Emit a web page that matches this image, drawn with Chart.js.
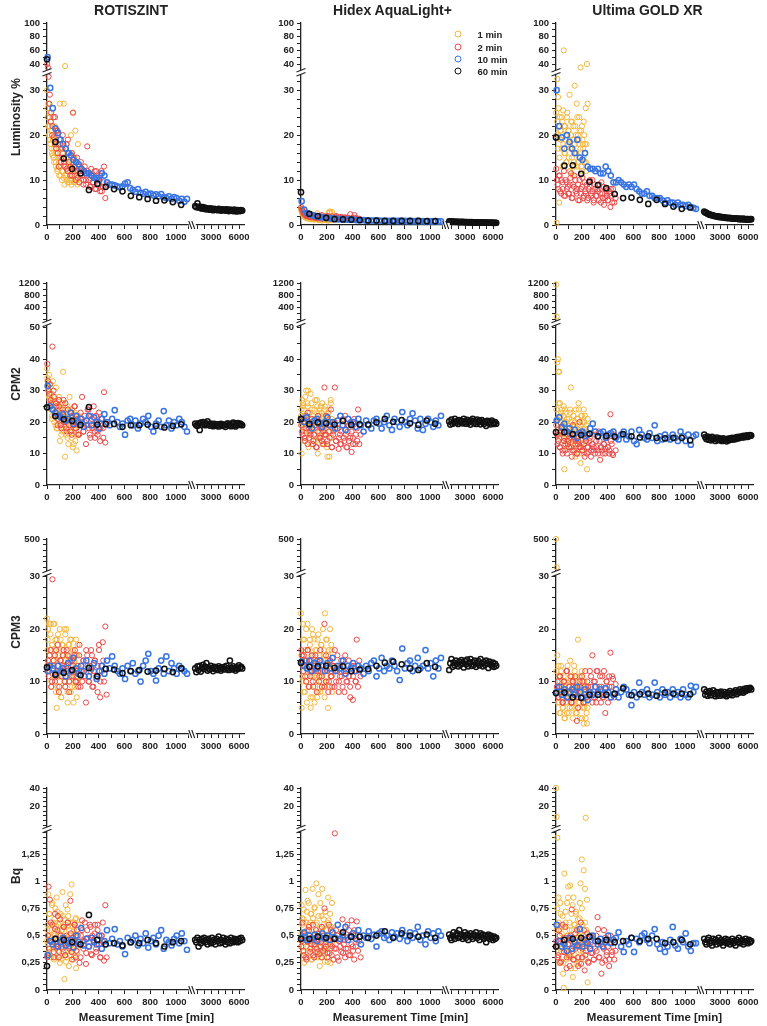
<!DOCTYPE html>
<html>
<head>
<meta charset="utf-8">
<script src="https://cdn.jsdelivr.net/npm/chart.js@4.4.1/dist/chart.umd.min.js"></script>
<style>
  html, body { margin: 0; padding: 0; background: #fff; }
  body { width: 767px; height: 1026px; overflow: hidden; position: relative;
         font-family: "Liberation Sans", Arial, sans-serif; }
  canvas { position: absolute; }
  .lbl { position: absolute; font-weight: bold; color: #222; white-space: nowrap;
         transform: translate(-50%, -50%); }
  .ytitle { transform: translate(-50%, -50%) rotate(-90deg); }
  .legtxt { position: absolute; font-weight: bold; font-size: 9.5px; color: #222;
            transform: translateY(-50%); white-space: nowrap; }
  .legdot { position: absolute; width: 5px; height: 5px; border-radius: 50%;
            transform: translate(-50%, -50%); }
</style>
</head>
<body>
<script>
// measurement times [min]
const X_1MIN = [0,5,10,15,20,25,30,35,40,45,50,55,60,65,70,75,80,85,90,95,100,105,110,115,120,125,130,135,140,145,150,155,160,165,170,175,180,185,190,195,200,205,210,215,220,225,230,235,240,245];
const X_1MIN_B = [3,9,15,21,27,33,39,45,51,57,63,69,75,81,87,93,99,105,111,117,123,129,135,141,147,153,159,165,171,177,183,189,195,201,207,213,219,225,231,237];
const X_2MIN = [2,12,22,32,42,52,62,72,82,92,102,112,122,132,142,152,162,172,182,192,202,212,222,232,242,252,262,272,282,292,302,312,322,332,342,352,362,372,382,392,402,412,422,432,442,452,462];
const X_2MIN_B = [7,18,29,40,51,62,73,84,95,106,117,128,139,150,161,172,183,194,205,216,227,238,249,260,271,282,293,304,315,326,337,348,359,370,381,392,403,414,425,436];
const X_10MIN = [5,25,45,65,85,105,125,145,165,185,205,225,245,265,285,305,325,345,365,385,405,425,445,465,485,505,525,545,565,585,605,625,645,665,685,705,725,745,765,785,805,825,845,865,885,905,925,945,965,985,1005,1025,1045,1065,1085];
const X_60MIN = [0,65,130,195,260,325,390,455,520,585,650,715,780,845,910,975,1040];
const X_60MIN_LONG = [1300,1420,1540,1660,1780,1900,2020,2140,2260,2380,2500,2620,2740,2860,2980,3100,3220,3340,3460,3580,3700,3820,3940,4060,4180,4300,4420,4540,4660,4780,4900,5020,5140,5260,5380,5500,5620,5740,5860,5980,6100,6220,6340];

const COLUMNS = ['ROTISZINT', 'Hidex AquaLight+', 'Ultima GOLD XR'];
const ROWS = ['Luminosity %', 'CPM2', 'CPM3', 'Bq'];
const SERIES = ['1 min', '2 min', '10 min', '60 min'];

// --- Luminosity %
const lumRoti1 = [30,24,27,22,25,19,23,17,21,15.5, 19,14,22,16,13,18,12,20,15,11, 27,17,13,10,16,12,27,9,37,14, 11,18,9.5,13,16,10,12,20,9,14, 25,11,15,9.5,21,12,10,13,18,9.5];
const lumRoti1b = [26,22,20,24,18,21,16,19,15,17, 20,14,16,12.5,18,13,15,11,14,12, 17,10.5,13,11,15,10,12,14,9.5,11, 13,10,16,12,9.5,11,13,10,12,9];
const lumRoti2 = [40,33,29,25,22,19.5,24,17,21,13, 18,15,20,14,17,12.5,19,14,11,16, 25,13,10,15,12,9.5,14,11,9,13, 10,17.5,11.5,8.5,12.5,9.5,11,8,12,9, 10.5,7.5,12,8.5,13,6,9];
const lumRoti2b = [35,27,23,20,24,18,21,16,19,14, 17,15,13,18,12,16,13,11,15,12, 14,10.5,13,11,12.5,10,11.5,9,12,10, 8.5,11,9.5,12,8,10,9,11,7.5,9.5];
const lumRoti10 = [50,30.5,26,21.5,20.5,19,18,17,16,15.5, 14.5,14,13.5,12.5,12,11.5,11.5,11,10.5,10.5, 10,11.5,11,9.5,9,9,8.8,8.6,8.4,8.6, 9.2,9.5,8.2,7.8,7.4,8.0,7.2,7.0,7.4,6.8, 7.0,6.6,6.8,6.4,6.9,6.2,6.0,6.4,5.8,6.2, 6.0,5.4,5.8,5.2,5.8];
const lumRoti60 = [47,18.5,14.8,12.5,11.5,7.8,9.2,8.5,8.0,7.5,6.5,6.2,5.8,5.4,5.5,5.1,4.5];
const lumRoti60b = [4.2,4.0,4.8,3.9,4.1,3.8,3.7,4.0,3.6,3.8,3.5,3.7,3.6,3.4,3.7,3.5,3.3,3.6,3.4,3.5, 3.3,3.6,3.4,3.2,3.5,3.3,3.4,3.2,3.5,3.3,3.1,3.4,3.2,3.3,3.1,3.4,3.2,3.0,3.3,3.2, 3.1,3.3,3.2];

const lumHidex1 = [3.6,3.0,2.6,3.2,2.2,2.8,1.8,2.5,2.0,1.6, 2.4,1.9,1.5,2.2,1.7,1.3,2.0,1.6,2.3,1.4, 1.8,1.2,2.1,1.5,1.7,2.6,1.3,1.9,1.1,1.6, 2.0,1.4,1.2,1.8,1.5,1.1,1.7,1.3,1.6,1.2, 1.9,1.0,1.5,2.8,1.3,3.0,1.6,1.2,2.9,1.4];
const lumHidex1b = [3.3,2.7,2.4,2.0,2.6,1.7,2.2,1.5,1.9,2.3, 1.4,1.8,2.1,1.3,1.6,1.9,1.2,1.7,1.4,2.0, 1.3,1.6,1.1,1.8,1.4,1.2,1.7,1.0,1.5,1.3, 1.9,1.1,1.4,1.6,1.2,1.0,1.5,2.7,1.3,1.1];
const lumHidex2 = [4.0,3.1,2.7,2.4,2.2,2.6,2.0,2.3,1.9,2.2, 1.8,2.1,1.7,2.0,1.6,1.9,2.2,1.7,1.8,1.5, 2.0,1.6,1.8,1.5,1.9,1.4,1.7,2.0,1.5,1.6, 1.4,1.8,1.5,1.3,1.7,1.4,1.6,1.3,2.4,1.5, 1.2,1.6,1.3,1.5,1.2,1.4,1.2];
const lumHidex2b = [3.5,2.6,2.3,2.0,2.4,1.8,2.1,1.7,1.9,1.6, 2.0,1.5,1.8,1.7,1.4,1.9,1.6,1.5,1.8,1.4, 1.7,1.5,1.3,1.6,1.4,1.8,1.3,1.5,1.6,1.3, 1.4,1.6,1.2,1.5,1.3,1.4,1.2,2.2,1.3,1.4];
const lumHidex10 = [5.3,3.4,2.7,2.4,2.2,2.0,1.9,1.8,1.7,1.6, 1.6,1.5,1.4,1.4,1.3,1.3,1.3,1.2,1.2,1.2, 1.2,1.1,1.1,1.1,1.1,1.0,1.0,1.0,1.0,1.0, 1.0,0.95,0.95,0.95,0.9,0.9,0.95,0.9,0.9,0.9, 0.9,0.85,0.9,0.85,0.85,0.9,0.85,0.85,0.8,0.85, 0.8,0.8,0.85,0.8,0.8];
const lumHidex60 = [7.3,2.5,2.0,1.6,1.3,1.25,1.2,1.1,1.0,1.0,0.9,0.9,0.9,0.9,0.9,0.85,0.85];
const lumHidex60b = [0.8,0.75,0.8,0.7,0.75,0.7,0.72,0.68,0.7,0.66,0.7,0.65,0.68,0.64,0.66,0.62,0.65,0.6,0.63,0.6, 0.62,0.58,0.6,0.57,0.6,0.56,0.58,0.55,0.57,0.54,0.56,0.53,0.55,0.52,0.54,0.5,0.53,0.5,0.52,0.49, 0.5,0.48,0.5];

const lumUltima1 = [25,0.5,32.5,28.5,22,5,24,19,21,17, 23,25.5,60,16,22,19,14,24,18,21, 15,29,12,20,17,23,11,19,14,31, 22,16,27,13,20,18,24,15,35,21, 12,19,17,23,14,18,26,12,40,27];
const lumUltima1b = [20,23,17,26,15,21,19,24,13,18, 22,16,20,14,25,18,21,12,17,23, 15,19,22,13,18,20,16,24,14,19, 21,17,13,22,18,15,20,16,14,18];
const lumUltima2 = [12.5,9,11,7.5,10,8,12,6.5,9.5,8.5, 7,10.5,6,9,11,7.5,8,5.5,10,7, 8.5,6,9.5,7,5.5,8,10,6.5,7.5,5, 9,6.5,8,5.5,7,9.5,6,4.5,8,6.5, 5.5,7.5,4,6.5,8,5,6];
const lumUltima2b = [10,8,11,7,9.5,6.5,10,8,7,9, 11.5,6,8.5,10,7,9,5.5,8,10.5,6.5, 7.5,9,6,8.5,7,10,5.5,8,6.5,7.5, 9,5,7,8.5,6,7.5,5.5,7,8,5];
const lumUltima10 = [30,22,19.5,17,20,18.5,17,16,19,15, 14.5,16,13,12.5,12.5,12,12.5,11.5,11.5,13, 12,11,9.5,9.5,10,9.5,9,8.5,9,8.5, 9,8,7.5,7,7,7.5,6.5,6.5,6,6, 6,5.5,5,5.5,5,5,4.5,5,4.5,4.5, 4.2,4.5,4,3.8,3.6];
const lumUltima60 = [19.5,13.2,13.3,11.4,9.6,8.9,8.2,6.9,6.0,6.1,5.6,4.7,5.6,4.7,4.1,3.6,3.9];
const lumUltima60b = [3.0,2.8,2.7,2.5,2.4,2.3,2.2,2.2,2.1,2.0,2.0,1.9,1.9,1.8,1.8,1.8,1.7,1.7,1.7,1.6, 1.6,1.6,1.5,1.6,1.5,1.5,1.4,1.5,1.4,1.4,1.4,1.3,1.4,1.3,1.3,1.4,1.3,1.2,1.3,1.3, 1.2,1.3,1.3];

// --- CPM2
const cpm2Roti1 = [37,33,30,35,27,32,24,29,21,33, 26,22,28,19,31,24,18,25,21,27, 14,23,19,26,17,36,22,20,9,24, 16,21,25,13,19,28,17,22,15,24, 12,20,18,23,14,21,11,19,16,22];
const cpm2Roti1b = [34,30,28,31,25,29,22,27,24,20, 26,23,18,25,21,28,19,24,16,22, 26,20,17,23,19,21,15,24,18,22, 20,17,23,19,13,21,18,16,22,19];
const cpm2Roti2 = [38.5,30,32,26,44,28,23,25,19,27, 22,18,24,20,26,17,21,19,23,16, 20,25,18,22,16,19,21,28,17,20, 13,19,24,16,22,18,25,15,20,17, 23,14,21,18,29.5,13.5,19];
const cpm2Roti2b = [33,29,27,24,30,22,26,21,25,19, 23,27,20,18,24,21,17,22,19,25, 18,21,16,23,20,17,22,19,24,18, 15,21,19,17,22,16,20,18,21,15];
const cpm2Roti10 = [31.5,25,24,23,22,21.5,22.5,20.5,21,23, 19.5,22,20,21,18.5,20.5,22,19,21.5,20, 18,21,22.5,20,19,21,23.8,20,18.5,19.5, 16,20.5,21,19,20.5,18,19.5,21,20,22, 18.5,17,19.5,20.5,18.5,23.5,19,20.5,18,20, 19,21,20,18.5,17];
const cpm2Roti60 = [24.7,21.9,20.9,20.4,19.1,24.8,19.2,19.4,19.4,18.5,19.0,19.0,19.2,18.8,18.3,18.8,19.3];
const cpm2Roti60b = [19.5,19.0,18.8,19.6,17.5,19.8,19.2,20.0,19.4,19.0,19.6,20.2,19.3,18.9,19.5,19.1,18.7,19.4,19.0,18.8, 19.3,18.6,19.1,19.4,18.8,19.2,19.0,18.5,19.3,19.6,18.9,19.2,18.7,19.5,19.8,19.0,18.6,19.4,19.7,19.1, 19.5,19.3,19.0];

const cpm2Hidex1 = [22,10,27,25,18,24,21,15,30,19, 26,30,17,23,20,29,13,24,18,22, 16,21,27,14,19,25,10,22,17,24, 20,15,23,26,18,21,13,25,19,16, 22,9,20,24,9,17,27,15,21,18];
const cpm2Hidex1b = [24,19,26,14,22,28,17,21,25,12, 20,23,16,26,19,22,14,24,18,21, 27,15,20,23,17,25,19,13,22,18, 24,16,21,12,19,23,17,20,26,15];
const cpm2Hidex2 = [19,16,21,14,18,23,15,17,20,13, 16,19,12,22,15,18,14,17,31,16, 13,19,15,24,12,17,31,14,18,11.5, 16,13,19,15,22,12,17,14,20,10.5, 15,21,13,18,24,13,16];
const cpm2Hidex2b = [17,20,15,22,13,18,16,21,14,19, 12,17,20,15,18,13,16,22,14,17, 19,12,16,20,14,18,15,13,17,21, 14,16,12,19,15,17,13,20,16,14];
const cpm2Hidex10 = [21,20,21.5,19,18,20.5,21,19.5,18.5,20, 21.5,19,20,18,20.5,22,19,17.5,21,19.5, 20,18.5,21,19,17,20.5,19,18,20.5,21, 19.5,18,20,22,19,17.5,21,20,18.5,23.2, 20,19,21,22.8,20.5,18,21,17.5,19.5,21, 20,18.5,20.5,19,22];
const cpm2Hidex60 = [21.0,19.4,19.9,19.6,19.2,20.4,19.1,19.3,19.2,19.9,21.0,20.1,20.6,19.6,19.1,20.5,19.5];
const cpm2Hidex60b = [20.2,19.2,20.8,19.5,20.0,21.0,19.8,20.3,19.4,20.6,19.9,20.4,19.6,21.0,20.1,19.5,20.7,19.8,20.3,19.2, 20.5,21.0,19.7,20.2,19.4,20.8,19.9,20.4,19.3,20.6,20.0,19.5,20.2,18.8,20.4,19.6,20.1,19.3,20.5,19.8, 19.4,20.0,19.5];

const cpm2Ultima1 = [1150,110,39,40,36,36,26,22,18,24, 20,16,25,5,19,23,14,21,18,17, 12,15,24,31,20,16,11,22,14,19, 9,24,17,13,21,26,10,18,7,22, 15,20,12,24,17,22,14,19,5,21];
const cpm2Ultima1b = [24,21,18,26,15,20,23,17,19,22, 14,24,16,20,12,18,21,15,23,17, 19,13,22,16,20,18,11,21,15,24, 17,19,13,22,16,10,20,18,14,17];
const cpm2Ultima2 = [19,13,16,12,18,10,14,11,17,13, 12,15,9,19,11,14,10,13,20,12, 11,16,9,14,12,10.5,15,11,13,12, 10,14,11,17,8,12,10,13,11.5,15, 12,10,22.5,13,9.5,16,11];
const cpm2Ultima2b = [16,14,12,17,11,15,13,10,14,16, 12,11,15,13,10,14,12,17,11,13, 15,10,12,14,9,13,11,16,12,10, 14,12,11,13,10,15,12,11,14,10];
const cpm2Ultima10 = [20.5,21.5,18.5,19.5,17,18,16,17.5,15,16.5, 17,15.5,16,18,19.5,17,15.5,16.5,17,15, 16,16.5,17,15,14.5,16,17,14.5,15.5,17, 14,13,17.5,16,15,14.5,16.5,15,19,14, 15.5,14.5,16,15,14.5,16,15,14,17,15.5, 14,16,12.8,15.5,16];
const cpm2Ultima60 = [16.8,16.8,16.2,15.9,16.3,15.5,15.6,15.4,16.2,15.5,15.1,15.5,15.0,14.8,15.0,15.0,14.2];
const cpm2Ultima60b = [16.0,15.2,14.6,15.4,14.4,15.0,14.2,15.3,14.6,14.8,14.0,15.1,14.4,14.9,14.2,14.6,14.0,14.8,14.3,14.5, 13.9,14.7,14.2,14.8,14.4,15.0,14.5,14.9,14.6,15.2,14.8,15.3,15.0,15.4,15.1,15.6,15.2,15.5,15.8,15.3, 15.6,15.9,15.7];

// --- CPM3
const cpm3Roti1 = [22,18,14,21,12,16,21,9,17,13, 21,15,11,18,8,5,14,19,12,16, 10,18,7,13,17,11,15,20,9,14, 20,12,6,17,10,15,18,8,13,11, 16,6,14,9,12,18,7,15,10,13];
const cpm3Roti1b = [16,20,12,15,19,10,17,13,14,21, 11,16,18,9,15,12,20,14,7,17, 13,16,10,19,12,15,8,14,17,11, 13,18,9,16,12,14,10,15,11,17];
const cpm3Roti2 = [13,11,15,9,29.5,14,10,16,12,8, 14,11,15,13,9,16,12,10,14,11, 13,15,10,12,9,17,12,10,14,11, 6,15,10,13,16,9,12,14,11,8, 17,7,13,17.5,10,20.5,7.5];
const cpm3Roti2b = [14,12,16,10,13,15,11,17,9,14, 12,16,10,13,15,8,12,14,11,16, 10,13,15,9,12,14,11,16,13,10, 12,15,9,14,11,13,16,10,12,14];
const cpm3Roti10 = [12,13,12.5,11.5,13,12,12.5,11,13.5,12, 14.5,12.5,11.5,13,12,14,11,12.5,13.5,10.5, 12,13,11.5,14,12.5,14.8,13,12,11.5,12.5, 10.5,13,12,13.5,11.5,12,10,13,14,15.3, 12,11.5,10.2,12.5,14,11.5,14.8,12,13.5,12.5, 11.5,13,12.5,12,11.5];
const cpm3Roti60 = [12.7,11.3,11.7,12.2,11.2,12.6,11.0,12.4,12.3,11.6,12.0,12.2,11.9,12.1,12.4,11.8,12.5];
const cpm3Roti60b = [12.5,11.8,12.9,12.2,13.0,11.9,12.6,13.2,12.4,12.8,13.5,12.1,12.7,12.3,13.0,12.5,12.0,12.8,12.4,12.6, 12.2,12.9,12.5,12.1,12.7,12.4,12.8,12.3,13.0,12.5,12.2,14.0,12.6,12.3,12.9,12.5,12.1,12.7,12.4,13.1, 12.6,12.8,12.5];

const cpm3Hidex1 = [23,5,10,21,15,18,8,13,20,6, 11,16,9,14,18,5,12,20,7,15, 11,18,9,13,16,7,12,19,10,14, 8,17,13,11,20,15,9,23,12,18, 10,14,5,16,9,20,11,17,8,13];
const cpm3Hidex1b = [15,11,18,8,13,16,10,14,21,9, 12,17,7,15,11,19,13,6,16,10, 14,18,8,12,15,11,17,9,13,16, 7,14,10,18,12,15,9,13,11,16];
const cpm3Hidex2 = [16,13,15,11,14,16,9,12,14,10, 13,15,8,12,11,14,9,13,21,10, 12,8,14,11,9,13,16,10,12,8, 11,14,9,12,15,10,13,11,7,12, 6.5,13,10,18,9,14,11];
const cpm3Hidex2b = [15,12,14,10,16,13,11,15,9,13, 12,14,10,16,11,13,9,15,12,10, 14,11,13,9,12,15,10,13,11,14, 8,12,10,14,9,13,11,12,10,13];
const cpm3Hidex10 = [13.8,13,12.5,14,12,13.5,12.5,14,13,12, 13.5,12.5,14.5,12,13,12.5,14,11.5,13,12.5, 13.5,12,13,12.5,11.5,13,12,13.5,14,11, 12.5,14.5,12,13,12.5,14,13,12,10.3,16.3, 12.5,13.5,14,12,13,14.5,12.5,13,16,12.5, 13.5,11,14,12.5,14.5];
const cpm3Hidex60 = [13.6,12.8,12.9,13.0,12.6,12.9,12.0,12.3,12.4,13.0,13.6,13.8,13.3,12.5,12.2,13.5,12.8];
const cpm3Hidex60b = [12.2,13.5,14.3,12.8,13.6,13.1,14.0,13.4,12.9,13.8,13.2,14.1,13.5,12.7,13.9,13.3,14.2,12.9,13.6,14.3, 13.0,13.7,13.2,14.0,12.8,13.5,13.9,13.1,14.3,13.4,12.9,13.7,13.2,14.0,13.5,12.6,13.8,13.3,13.0,13.6, 12.8,13.4,13.0];

const cpm3Ultima1 = [500,250,15,8,13,6,10,4,12,7, 9,5,11,3,8,6,10,4,13,7, 9,5,14,8,6,11,3,9,7,12, 5,10,4,8,18,6,11,3,9,7, 12,5,8,2,10,6,3,9,2,5];
const cpm3Ultima1b = [12,9,6,11,4,8,13,7,5,10, 9,3,7,12,6,8,4,10,7,11, 5,9,6,13,8,4,10,7,5,9, 6,11,8,3,7,10,5,8,6,4];
const cpm3Ultima2 = [8,10,7,11,9,6,10,8,12,7, 9,11,6,10,8,9,2.5,7,10,8, 11,6,9,7,10,8,12,9,15,7, 10,6,12,8,11,9,7,12,4,10, 8,11,15.5,9,10.5,7,9.5];
const cpm3Ultima2b = [9,7,11,8,6,10,8,12,7,9, 6,10,8,11,7,5,9,8,10,6, 12,7,9,8,11,6,10,7,12,8, 9,6,11,7,8,10,6,9,7,11];
const cpm3Ultima10 = [8,9,7.5,8.5,7,8,8.5,7.5,9,8, 7,8.5,6.5,8,7.5,9,8,8.5,7.5,8.7, 8,7,7.5,8.5,7,8,9,8.5,7.5,5.5, 8,7,9.8,8,7.5,8.5,7,7.5,9.8,8, 7,8.5,7.5,8,7,8.5,7.5,8,7,8.5, 7.5,7,9.2,8,9];
const cpm3Ultima60 = [7.8,7.9,7.0,6.9,7.5,7.5,7.5,7.7,8.7,7.4,7.6,7.7,7.3,7.9,7.7,7.7,7.6];
const cpm3Ultima60b = [8.5,7.5,8.1,7.3,7.9,8.2,7.4,7.8,8.3,7.6,7.2,8.0,7.5,7.9,7.3,8.1,7.7,7.4,8.0,7.6, 7.2,7.9,7.5,8.2,7.7,7.4,8.0,7.8,8.3,7.6,8.1,7.9,8.5,8.0,8.3,7.9,8.6,8.2,8.7,8.4, 8.6,8.8,8.5];

// --- Bq
const bqRoti1 = [0.45,0.6,0.88,0.35,0.7,0.5,0.3,0.55,0.8,0.4, 0.62,0.28,0.5,0.75,0.38,0.85,0.45,0.3,0.6,0.52, 0.25,0.7,0.42,0.55,0.9,0.35,0.65,0.1,0.48,0.78, 0.3,0.58,0.4,0.68,0.22,0.5,0.88,0.35,0.97,0.45, 0.62,0.28,0.55,0.4,0.65,0.2,0.5,0.35,0.6,0.45];
const bqRoti1b = [0.55,0.42,0.7,0.32,0.6,0.48,0.78,0.38,0.52,0.65, 0.3,0.58,0.45,0.72,0.36,0.5,0.62,0.28,0.55,0.42, 0.68,0.35,0.5,0.6,0.26,0.45,0.74,0.4,0.55,0.32, 0.62,0.48,0.38,0.58,0.3,0.52,0.44,0.66,0.36,0.5];
const bqRoti2 = [0.3,0.95,0.83,0.45,0.6,0.35,0.7,0.4,0.55,0.3, 0.65,0.45,0.38,0.58,0.32,0.5,0.62,0.4,0.82,0.35, 0.48,0.6,0.3,0.55,0.42,0.25,0.5,0.64,0.38,0.45, 0.24,0.55,0.4,0.6,0.33,0.5,0.45,0.6,0.35,0.55, 0.42,0.3,0.5,0.62,0.27,0.78,0.3];
const bqRoti2b = [0.5,0.38,0.62,0.44,0.3,0.56,0.42,0.68,0.35,0.5, 0.4,0.58,0.32,0.46,0.62,0.38,0.52,0.28,0.45,0.6, 0.36,0.5,0.42,0.3,0.55,0.45,0.62,0.34,0.48,0.4, 0.58,0.32,0.46,0.52,0.38,0.6,0.42,0.3,0.5,0.44];
const bqRoti10 = [0.32,0.45,0.42,0.47,0.4,0.44,0.48,0.41,0.43,0.46, 0.39,0.5,0.44,0.57,0.41,0.47,0.4,0.48,0.44,0.42, 0.5,0.38,0.45,0.55,0.43,0.47,0.56,0.42,0.45,0.4, 0.33,0.48,0.44,0.46,0.5,0.41,0.47,0.43,0.52,0.39, 0.45,0.48,0.42,0.5,0.55,0.38,0.46,0.44,0.41,0.47, 0.5,0.43,0.52,0.45,0.37];
const bqRoti60 = [0.22,0.47,0.46,0.44,0.42,0.69,0.46,0.42,0.43,0.41,0.44,0.43,0.46,0.43,0.40,0.44,0.45];
const bqRoti60b = [0.46,0.44,0.48,0.40,0.46,0.43,0.47,0.45,0.48,0.44,0.46,0.42,0.47,0.45,0.43,0.48,0.44,0.46,0.42,0.47, 0.45,0.49,0.43,0.46,0.44,0.48,0.45,0.42,0.47,0.44,0.46,0.43,0.48,0.45,0.44,0.47,0.45,0.46,0.44,0.47, 0.45,0.48,0.46];

const bqHidex1 = [0.45,0.78,0.6,0.35,0.65,0.25,0.5,0.92,0.4,0.72, 0.55,0.3,0.8,0.45,0.62,0.38,0.7,0.28,0.93,0.5, 0.42,0.75,0.35,0.6,0.98,0.45,0.3,0.68,0.52,0.22, 0.8,0.4,0.58,0.93,0.35,0.65,0.48,0.26,0.72,0.55, 0.38,0.62,0.85,0.3,0.5,0.7,0.25,0.58,0.8,0.42];
const bqHidex1b = [0.52,0.66,0.4,0.74,0.48,0.3,0.62,0.55,0.82,0.36, 0.6,0.45,0.7,0.28,0.54,0.66,0.4,0.76,0.5,0.34, 0.62,0.46,0.88,0.4,0.56,0.3,0.68,0.5,0.42,0.6, 0.36,0.72,0.48,0.55,0.26,0.64,0.44,0.58,0.38,0.5];
const bqHidex2 = [0.4,0.62,0.32,0.5,0.28,0.45,0.55,0.35,0.42,0.6, 0.3,0.48,0.38,0.52,0.33,0.44,0.58,0.36,0.75,0.4, 0.3,0.46,0.34,0.55,0.4,0.28,1.44,0.38,0.5,0.27, 0.45,0.35,0.65,0.42,0.3,0.48,0.38,0.55,0.32,0.64, 0.4,0.28,0.5,0.63,0.36,0.45,0.3];
const bqHidex2b = [0.45,0.36,0.52,0.3,0.44,0.58,0.38,0.48,0.32,0.42, 0.55,0.35,0.46,0.4,0.3,0.5,0.38,0.44,0.34,0.6, 0.42,0.32,0.48,0.38,0.55,0.3,0.45,0.4,0.52,0.34, 0.46,0.38,0.6,0.32,0.5,0.42,0.36,0.55,0.4,0.46];
const bqHidex10 = [0.48,0.53,0.46,0.5,0.47,0.51,0.45,0.49,0.52,0.47, 0.5,0.46,0.53,0.48,0.6,0.47,0.5,0.58,0.46,0.49, 0.52,0.47,0.55,0.42,0.5,0.48,0.54,0.47,0.51,0.4, 0.52,0.54,0.48,0.5,0.46,0.53,0.49,0.52,0.47,0.55, 0.5,0.45,0.53,0.48,0.52,0.58,0.46,0.5,0.42,0.54, 0.48,0.52,0.45,0.54,0.5];
const bqHidex60 = [0.47,0.47,0.49,0.48,0.47,0.53,0.49,0.49,0.48,0.50,0.54,0.48,0.52,0.50,0.49,0.51,0.48];
const bqHidex60b = [0.51,0.48,0.46,0.5,0.53,0.47,0.5,0.52,0.48,0.55,0.49,0.51,0.47,0.5,0.53,0.48,0.51,0.46,0.5,0.52, 0.49,0.47,0.51,0.5,0.53,0.48,0.5,0.46,0.52,0.49,0.51,0.47,0.5,0.44,0.49,0.51,0.47,0.5,0.48,0.46, 0.49,0.47,0.48];

const bqUltima1 = [40,9,1.4,0.6,0.85,0.25,0.5,0.7,0.35,0.58, 0.45,0.15,0.02,1.07,0.4,0.62,0.28,0.8,0.5,0.95, 0.35,0.55,0.96,0.3,0.7,0.45,0.12,0.85,0.4,0.6, 0.2,0.72,0.48,0.3,0.65,0.5,0.25,0.8,0.98,0.42, 1.2,0.6,0.35,1.1,0.45,0.93,8,0.55,0.83,0.07];
const bqUltima1b = [0.55,0.75,0.3,0.62,0.45,0.8,0.38,0.52,0.68,0.25, 0.58,0.42,0.72,0.35,0.5,0.85,0.3,0.62,0.46,0.2, 0.55,0.78,0.4,0.6,0.32,0.7,0.48,0.24,0.58,0.42, 0.66,0.36,0.52,0.75,0.3,0.5,0.4,0.62,0.28,0.45];
const bqUltima2 = [0.45,0.3,0.55,0.25,0.4,0.6,0.35,0.48,0.2,0.42, 0.32,0.5,0.74,0.28,0.45,0.38,0.55,0.22,0.4,0.62, 0.3,0.47,0.18,0.36,0.52,0.25,0.42,0.34,0.48,0.28, 0.38,0.5,0.67,0.3,0.44,0.15,0.4,0.55,0.27,0.35, 0.45,0.22,0.5,0.32,0.4,0.28,0.36];
const bqUltima2b = [0.4,0.32,0.5,0.26,0.45,0.35,0.58,0.3,0.42,0.22, 0.48,0.36,0.28,0.52,0.4,0.3,0.46,0.24,0.38,0.55, 0.32,0.44,0.26,0.4,0.5,0.34,0.28,0.45,0.36,0.56, 0.3,0.42,0.25,0.38,0.48,0.32,0.4,0.28,0.44,0.35];
const bqUltima10 = [0.6,0.45,0.4,0.42,0.36,0.48,0.38,0.44,0.41,0.56, 0.4,0.46,0.43,0.38,0.5,0.45,0.42,0.47,0.4,0.44, 0.5,0.43,0.46,0.48,0.53,0.4,0.35,0.45,0.42,0.48, 0.35,0.47,0.44,0.5,0.52,0.46,0.43,0.5,0.56,0.42, 0.38,0.44,0.35,0.4,0.46,0.58,0.41,0.38,0.47,0.44, 0.52,0.4,0.36,0.43,0.43];
const bqUltima60 = [0.40,0.46,0.47,0.48,0.49,0.45,0.46,0.44,0.45,0.48,0.45,0.47,0.47,0.43,0.44,0.46,0.42];
const bqUltima60b = [0.47,0.44,0.42,0.46,0.48,0.43,0.45,0.41,0.47,0.44,0.46,0.42,0.45,0.48,0.43,0.46,0.44,0.41,0.45,0.47, 0.43,0.46,0.44,0.42,0.45,0.47,0.43,0.45,0.41,0.46,0.44,0.48,0.43,0.45,0.46,0.42,0.44,0.47,0.45,0.43, 0.46,0.44,0.45];

// panels, row by row: [1 min, 1 min (2nd), 2 min, 2 min (2nd), 10 min, 60 min, 60 min long]
const PANELS = [
  [[lumRoti1, lumRoti1b, lumRoti2, lumRoti2b, lumRoti10, lumRoti60, lumRoti60b],
   [lumHidex1, lumHidex1b, lumHidex2, lumHidex2b, lumHidex10, lumHidex60, lumHidex60b],
   [lumUltima1, lumUltima1b, lumUltima2, lumUltima2b, lumUltima10, lumUltima60, lumUltima60b]],
  [[cpm2Roti1, cpm2Roti1b, cpm2Roti2, cpm2Roti2b, cpm2Roti10, cpm2Roti60, cpm2Roti60b],
   [cpm2Hidex1, cpm2Hidex1b, cpm2Hidex2, cpm2Hidex2b, cpm2Hidex10, cpm2Hidex60, cpm2Hidex60b],
   [cpm2Ultima1, cpm2Ultima1b, cpm2Ultima2, cpm2Ultima2b, cpm2Ultima10, cpm2Ultima60, cpm2Ultima60b]],
  [[cpm3Roti1, cpm3Roti1b, cpm3Roti2, cpm3Roti2b, cpm3Roti10, cpm3Roti60, cpm3Roti60b],
   [cpm3Hidex1, cpm3Hidex1b, cpm3Hidex2, cpm3Hidex2b, cpm3Hidex10, cpm3Hidex60, cpm3Hidex60b],
   [cpm3Ultima1, cpm3Ultima1b, cpm3Ultima2, cpm3Ultima2b, cpm3Ultima10, cpm3Ultima60, cpm3Ultima60b]],
  [[bqRoti1, bqRoti1b, bqRoti2, bqRoti2b, bqRoti10, bqRoti60, bqRoti60b],
   [bqHidex1, bqHidex1b, bqHidex2, bqHidex2b, bqHidex10, bqHidex60, bqHidex60b],
   [bqUltima1, bqUltima1b, bqUltima2, bqUltima2b, bqUltima10, bqUltima60, bqUltima60b]]
];

// y axes: lower part and upper part above the break
const LOW_RANGE = [[0, 34], [0, 51.5], [0, 30.7], [0, 1.48]];
const HIGH_RANGE = [[28, 100], [-100, 1200], [200, 500], [-4, 40]];
const LOW_TICK = [[0, 32, 2], [0, 50, 5], [0, 30, 2], [0, 1.45, 0.05]];
const HIGH_TICK = [[40, 100, 10], [0, 1200, 200], [250, 500, 50], [0, 40, 5]];
const LOW_LABELS = [[0, 10, 20, 30], [0, 10, 20, 30, 40, 50], [0, 10, 20, 30], [0, 0.25, 0.5, 0.75, 1, 1.25]];
const HIGH_LABELS = [[40, 60, 80, 100], [400, 800, 1200], [500], [20, 40]];
const HEIGHT_SPLIT = [[49, 152], [40, 162], [34, 161], [41, 161]];

// x axes: 0-1100 min and the compressed long-term part
const X_LEFT = [0, 1122], X_RIGHT = [930, 6620];
const X_LEFT_TICKS = [0, 100, 200, 300, 400, 500, 600, 700, 800, 900, 1000, 1100];
const X_LEFT_LABELS = [0, 200, 400, 600, 800, 1000];
const X_RIGHT_TICKS = [1500, 2250, 3000, 3750, 4500, 5250, 6000];
const X_RIGHT_LABELS = [3000, 6000];

const STYLE = [
  {color: '#F3B73F', bw: 1, order: 3},
  {color: '#E94848', bw: 1, order: 2},
  {color: '#3A74E0', bw: 1.5, order: 1},
  {color: '#111111', bw: 1.5, order: 0}
];

const AXIS_X = [47, 301, 556];
const ROW_TOP = [23, 283, 539, 788];
const ROW_BOTTOM = [225, 485, 734, 990];

Chart.defaults.font.family = '"Liberation Sans", Arial, sans-serif';

function steps(a, b, st) {
  const out = [];
  for (let v = a; v <= b + 1e-9; v += st) out.push(Math.round(v * 1000) / 1000);
  return out;
}

function makeAxis(opts) {
  return {
    type: 'linear', axis: opts.axis, position: opts.position,
    stack: opts.stack, stackWeight: opts.weight,
    min: opts.min, max: opts.max,
    afterBuildTicks: s => { s.ticks = opts.ticks.map(v => ({value: v})); },
    afterFit: opts.fit,
    ticks: {
      autoSkip: false, maxRotation: 0, padding: 3, color: '#222',
      font: {size: 9.5, weight: 'bold'},
      callback: v => opts.labels.includes(v) ? opts.fmt(v) : ''
    },
    grid: {drawOnChartArea: false, drawTicks: true, tickLength: 4, color: '#222', lineWidth: 1},
    border: {display: true, color: '#222', width: 1.3}
  };
}

const breakMarks = {
  id: 'breakMarks',
  afterDraw(chart) {
    const {ctx, scales} = chart;
    ctx.save();
    // y break
    const ax = scales.y.right, yb = scales.y.top;
    ctx.fillStyle = '#fff';
    ctx.fillRect(ax - 2, yb - 2, 4, 4);
    ctx.strokeStyle = '#222';
    ctx.lineWidth = 1.1;
    ctx.beginPath();
    [-2, 2].forEach(o => { ctx.moveTo(ax - 4.5, yb + o + 1.8); ctx.lineTo(ax + 4.5, yb + o - 1.8); });
    ctx.stroke();
    // x break
    const xb = scales.x.right, ay = scales.x.top;
    ctx.fillRect(xb - 3, ay - 2, 7, 4);
    ctx.beginPath();
    [-1.5, 1.5].forEach(o => { ctx.moveTo(xb + o - 1.5, ay - 4); ctx.lineTo(xb + o + 1.5, ay + 4); });
    ctx.stroke();
    ctx.restore();
  }
};

function buildPanel(r, c) {
  const d = PANELS[r][c];
  const lowMax = LOW_RANGE[r][1];
  const datasets = [];
  const add = (k, xs, ys, xId) => {
    const low = [], high = [];
    xs.forEach((x, i) => (ys[i] > lowMax ? high : low).push({x, y: ys[i]}));
    [[low, 'y'], [high, 'y2']].forEach(([pts, yId]) => {
      if (!pts.length) return;
      const st = STYLE[k];
      datasets.push({
        label: SERIES[k], data: pts, xAxisID: xId, yAxisID: yId, order: st.order,
        pointRadius: 2.6, pointBorderWidth: st.bw, pointBorderColor: st.color,
        pointBackgroundColor: 'rgba(0,0,0,0)', showLine: false, clip: false
      });
    });
  };
  add(0, X_1MIN, d[0], 'x');
  add(0, X_1MIN_B, d[1], 'x');
  add(1, X_2MIN, d[2], 'x');
  add(1, X_2MIN_B, d[3], 'x');
  add(2, X_10MIN, d[4], 'x');
  add(3, X_60MIN, d[5], 'x');
  add(3, X_60MIN_LONG, d[6], 'x2');

  const fmtY = r === 3 ? v => String(v).replace('.', ',') : v => String(v);
  const fitY = s => { s.width = 46; };
  const fitX = s => { s.height = 24; };

  const cv = document.createElement('canvas');
  const h = ROW_BOTTOM[r] - ROW_TOP[r] + 12 + 24;
  cv.width = 257; cv.height = h;
  cv.style.left = (AXIS_X[c] - 46) + 'px';
  cv.style.top = (ROW_TOP[r] - 12) + 'px';
  cv.style.width = '257px'; cv.style.height = h + 'px';
  document.body.appendChild(cv);

  new Chart(cv, {
    type: 'scatter',
    data: {datasets},
    options: {
      responsive: false, animation: false, events: [],
      layout: {padding: {top: 12, right: 6, bottom: 0, left: 0}},
      plugins: {legend: {display: false}, tooltip: {enabled: false}},
      scales: {
        x: makeAxis({axis: 'x', position: 'bottom', stack: 'xs', weight: 150, min: X_LEFT[0], max: X_LEFT[1],
          ticks: X_LEFT_TICKS, labels: X_LEFT_LABELS, fmt: String, fit: fitX}),
        x2: makeAxis({axis: 'x', position: 'bottom', stack: 'xs', weight: 55, min: X_RIGHT[0], max: X_RIGHT[1],
          ticks: X_RIGHT_TICKS, labels: X_RIGHT_LABELS, fmt: String, fit: fitX}),
        y: makeAxis({axis: 'y', position: 'left', stack: 'ys', weight: HEIGHT_SPLIT[r][1],
          min: LOW_RANGE[r][0], max: LOW_RANGE[r][1], ticks: steps(...LOW_TICK[r]),
          labels: LOW_LABELS[r], fmt: fmtY, fit: fitY}),
        y2: makeAxis({axis: 'y', position: 'left', stack: 'ys', weight: HEIGHT_SPLIT[r][0],
          min: HIGH_RANGE[r][0], max: HIGH_RANGE[r][1], ticks: steps(...HIGH_TICK[r]),
          labels: HIGH_LABELS[r], fmt: String, fit: fitY})
      }
    },
    plugins: [breakMarks]
  });
}

for (let r = 0; r < 4; r++) for (let c = 0; c < 3; c++) buildPanel(r, c);

// texts
function addText(txt, x, y, size, cls) {
  const el = document.createElement('div');
  el.className = 'lbl' + (cls ? ' ' + cls : '');
  el.textContent = txt;
  el.style.left = x + 'px'; el.style.top = y + 'px'; el.style.fontSize = size + 'px';
  document.body.appendChild(el);
}
const TITLE_X = [131, 392.5, 647.5];
COLUMNS.forEach((t, c) => addText(t, TITLE_X[c], 10, 14));
const YTITLE_Y = [117, 384, 632, 876];
ROWS.forEach((t, r) => addText(t, 15.5, YTITLE_Y[r], 12, 'ytitle'));
const XTITLE_X = [146.5, 400.5, 654.5];
XTITLE_X.forEach(x => addText('Measurement Time [min]', x, 1016.5, 11.5));

// legend (inside Hidex luminosity panel)
const LEG_Y = [34.3, 47, 59.3, 71.3];
SERIES.forEach((s, i) => {
  const dot = document.createElement('div');
  dot.className = 'legdot';
  dot.style.left = '458px'; dot.style.top = LEG_Y[i] + 'px';
  dot.style.border = STYLE[i].bw + 'px solid ' + STYLE[i].color;
  document.body.appendChild(dot);
  const t = document.createElement('div');
  t.className = 'legtxt';
  t.textContent = s;
  t.style.left = '477.5px'; t.style.top = LEG_Y[i] + 'px';
  document.body.appendChild(t);
});
</script>
</body>
</html>
